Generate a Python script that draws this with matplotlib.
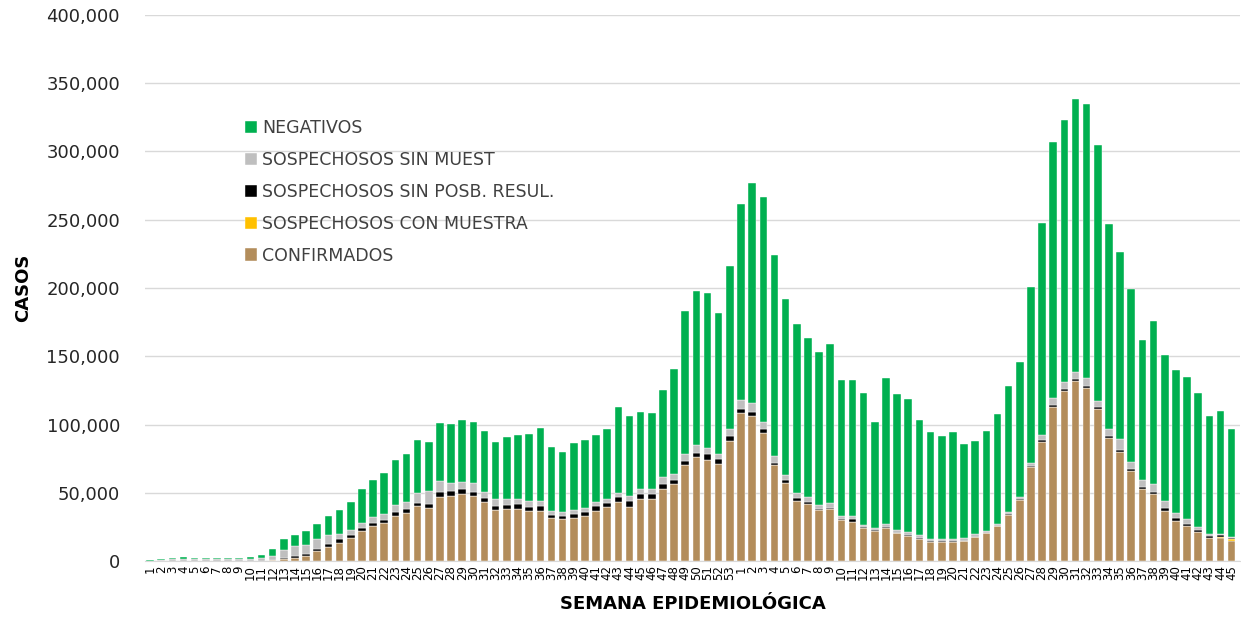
#!/usr/bin/env python3
"""
Casos por semana epidemiologica, barras apiladas por clasificacion.
"""

import matplotlib
matplotlib.use("Agg")
import matplotlib.pyplot as plt
import matplotlib.ticker as mticker
import numpy as np

# semanas 2020 (1-53) y 2021 (1-45)
semanas2020 = list(range(1, 54))
semanas2021 = list(range(1, 46))

confirmados2020 = [0, 0, 0, 0, 0, 0, 0, 0, 0, 50, 300, 800, 1200, 2400, 3900, 7100, 10300, 13400,
                   16600, 22200, 25600, 27800, 33200, 35200, 40000, 39000, 46900, 47400, 49100,
                   47400, 43000, 37600, 38100, 38100, 36400, 36900, 31200, 30800, 31700, 33000,
                   36900, 39600, 43400, 39600, 45600, 45200, 53000, 56400, 70300, 76000, 74000,
                   71300, 88000]
conMuestra2020 = [0] * 53
sinPosib2020 = [0, 0, 0, 0, 0, 0, 0, 0, 0, 0, 0, 200, 1000, 1200, 1200, 1700, 2000, 2400, 2400,
                2200, 2400, 2200, 2400, 2700, 2400, 2700, 3900, 3900, 3400, 3400, 3200, 2900, 2900,
                3400, 3400, 3400, 2700, 2400, 2900, 2700, 3700, 3200, 3700, 4200, 3400, 3700, 3400,
                3200, 2900, 3400, 4200, 3200, 3800]
sinMuestra2020 = [300, 700, 1200, 1500, 1300, 1300, 1300, 1300, 1300, 1400, 1700, 2900, 5900, 7600,
                  6600, 7300, 6500, 3700, 3700, 3600, 3900, 4400, 5600, 5400, 7300, 9500, 7800, 6100,
                  5600, 6100, 4600, 4900, 4400, 3900, 3900, 3700, 2400, 2700, 2900, 3200, 2700, 2700,
                  2900, 3900, 3700, 3700, 4900, 3900, 5400, 5400, 4900, 4200, 5000]
negativos2020 = [700, 1100, 1000, 1400, 1000, 900, 900, 900, 900, 1300, 2400, 4900, 8000, 7800,
                 10000, 11200, 13900, 17900, 20700, 25000, 27100, 29800, 33000, 34800, 38700, 35700,
                 42500, 43000, 45200, 44700, 44700, 41500, 45400, 46700, 49000, 53400, 47100, 43700,
                 48800, 49800, 48900, 51100, 62600, 58400, 56200, 55700, 64300, 77000, 104600,
                 112800, 113100, 102900, 119100]

confirmados2021 = [108400, 106500, 94000, 70000, 57000, 44000, 42000, 37400, 38100, 30000, 28600,
                   24000, 22000, 24000, 20300, 18600, 16400, 13900, 14000, 14000, 14400, 17300,
                   20300, 25500, 34000, 44500, 68500, 87500, 112600, 124500, 131700, 127000,
                   111400, 89900, 79600, 66200, 52500, 49100, 36900, 29500, 25900, 21500, 17100,
                   17000, 14700]
conMuestra2021 = [0] * 43 + [300, 1500]
sinPosib2021 = [2900, 2900, 3000, 1800, 2000, 2400, 1200, 800, 800, 800, 2000, 600, 500, 800, 500,
                600, 500, 400, 400, 400, 500, 400, 400, 400, 500, 600, 1000, 1300, 1700, 1200, 1700,
                1400, 1700, 1700, 1700, 1200, 1700, 1700, 1700, 1700, 1200, 1200, 1500, 1400, 300]
sinMuestra2021 = [6600, 6100, 5100, 5200, 4000, 3200, 3900, 2800, 3400, 2200, 2400, 1800, 1700, 2300,
                  1900, 2000, 1900, 1800, 1700, 1700, 1900, 1800, 1500, 1100, 1500, 1900, 2500, 3200,
                  4900, 5600, 5400, 5400, 4400, 5400, 7800, 5400, 5400, 5400, 5400, 4200, 3400, 2400,
                  1200, 1100, 1300]
negativos2021 = [143500, 161400, 164800, 147400, 128900, 124000, 116000, 112100, 116900, 99400,
                 99800, 96900, 77900, 107000, 99400, 97300, 84500, 78600, 75500, 78200, 68900,
                 68400, 73000, 80700, 92000, 98800, 128500, 155900, 187700, 191900, 199500, 201000,
                 187400, 149900, 137200, 126600, 102500, 119600, 106700, 104500, 104300, 97800,
                 86200, 90100, 79100]


def plotCasos(output: str = "out.png") -> None:
    labels = [str(s) for s in semanas2020 + semanas2021]
    series = [
        ("CONFIRMADOS", confirmados2020 + confirmados2021, "#B38D5B"),
        ("SOSPECHOSOS CON MUESTRA", conMuestra2020 + conMuestra2021, "#FFC000"),
        ("SOSPECHOSOS SIN POSB. RESUL.", sinPosib2020 + sinPosib2021, "#000000"),
        ("SOSPECHOSOS SIN MUEST", sinMuestra2020 + sinMuestra2021, "#BFBFBF"),
        ("NEGATIVOS", negativos2020 + negativos2021, "#00B050"),
    ]

    fig = plt.figure(figsize=(12.41, 6.2), dpi=100)
    ax = fig.add_axes([145 / 1241, 59 / 620, 1095 / 1241, 546 / 620])

    x = np.arange(len(labels))
    bottom = np.zeros(len(labels))
    handles = []
    for name, values, color in series:
        vals = np.array(values, dtype=float)
        bars = ax.bar(x, vals, width=0.68, bottom=bottom, color=color,
                      edgecolor="white", linewidth=0.3, label=name, zorder=3)
        handles.append(bars)
        bottom += vals

    ax.set_xlim(-0.45, 97.75)
    ax.set_ylim(0, 400000)
    ax.yaxis.set_major_locator(mticker.MultipleLocator(50000))
    ax.yaxis.set_major_formatter(mticker.FuncFormatter(lambda v, p: f"{int(v):,}"))
    ax.grid(axis="y", color="#D9D9D9", linewidth=1, zorder=0)

    ax.set_xticks(x)
    ax.set_xticklabels(labels, rotation=90, fontsize=8.5, color="black")
    ax.tick_params(axis="x", length=0, pad=3)
    ax.tick_params(axis="y", length=0, pad=18, labelsize=13, labelcolor="#262626")

    for side in ["top", "right", "left"]:
        ax.spines[side].set_visible(False)
    ax.spines["bottom"].set_color("#D9D9D9")

    ax.set_ylabel("CASOS", fontsize=13, fontweight="bold", labelpad=10)
    ax.set_xlabel("SEMANA EPIDEMIOLÓGICA", fontsize=13, fontweight="bold", labelpad=11)

    leg = ax.legend(handles[::-1], [s[0] for s in series][::-1], loc="upper left",
                    bbox_to_anchor=(0.077, 0.838), frameon=False, fontsize=12.5,
                    handlelength=0.7, handleheight=0.7, handletextpad=0.3, labelspacing=0.8)
    for t in leg.get_texts():
        t.set_color("#404040")

    fig.savefig(output, dpi=100)
    print(f"Saved {output}")


def main():
    plotCasos("out.png")


if __name__ == "__main__":
    main()
